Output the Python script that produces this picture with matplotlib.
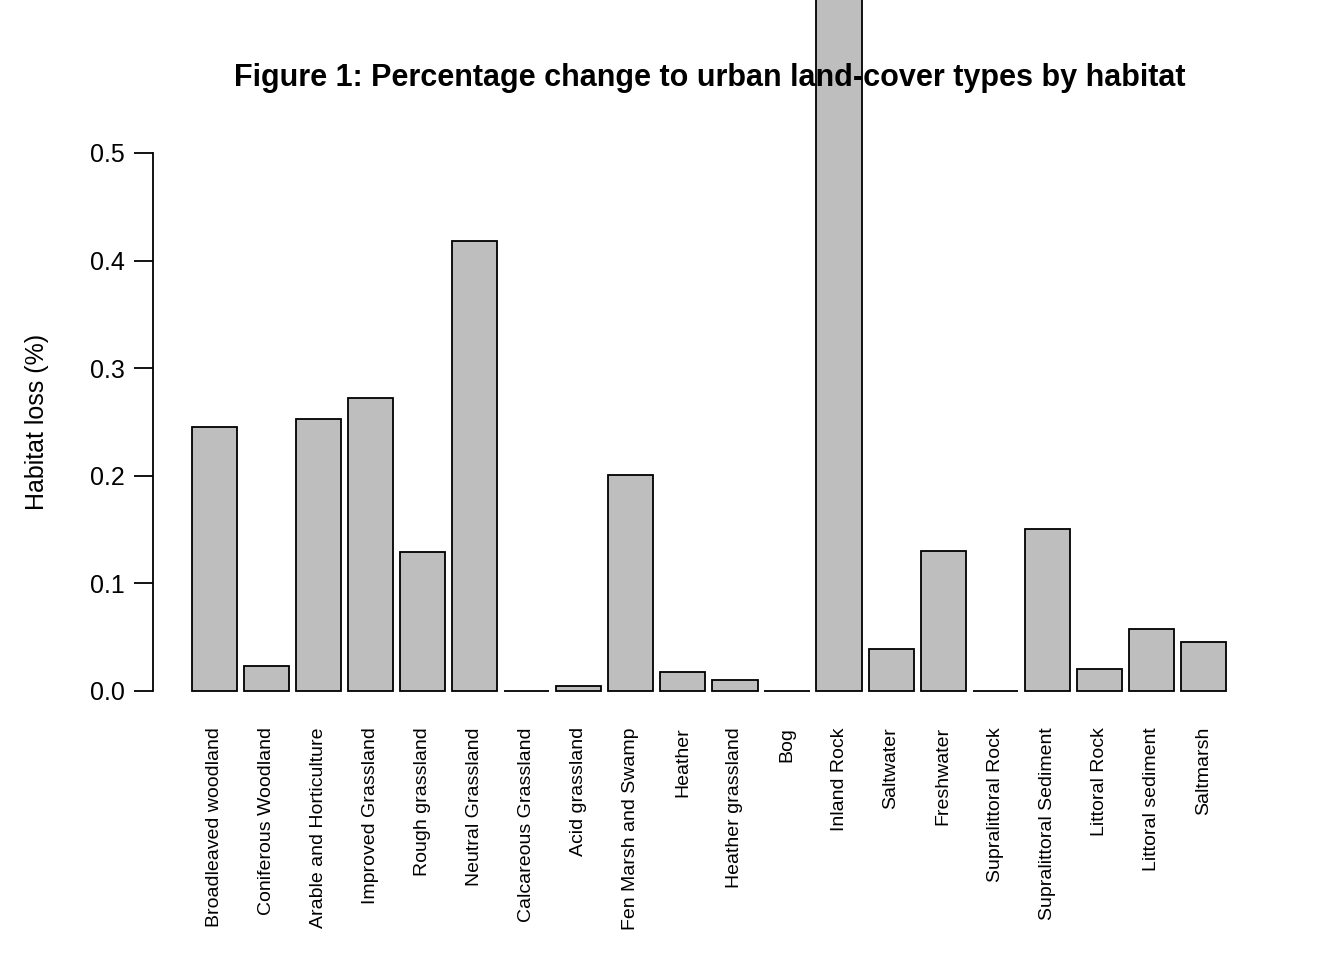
import matplotlib
matplotlib.use("Agg")
import matplotlib.pyplot as plt

plt.rcParams["font.family"] = ["Liberation Sans", "DejaVu Sans"]

habitats = ["Broadleaved woodland", "Coniferous Woodland", "Arable and Horticulture",
            "Improved Grassland", "Rough grassland", "Neutral Grassland",
            "Calcareous Grassland", "Acid grassland", "Fen Marsh and Swamp", "Heather",
            "Heather grassland", "Bog", "Inland Rock", "Saltwater", "Freshwater",
            "Supralittoral Rock", "Supralittoral Sediment", "Littoral Rock",
            "Littoral sediment", "Saltmarsh"]
loss = [0.245, 0.023, 0.253, 0.272, 0.129, 0.418, 0.0, 0.005, 0.201, 0.018,
        0.010, 0.0, 0.70, 0.039, 0.130, 0.0, 0.151, 0.020, 0.058, 0.046]
yticks = [0.0, 0.1, 0.2, 0.3, 0.4, 0.5]

W, H = 1344, 960
fig = plt.figure(figsize=(W / 100, H / 100), dpi=100)
ax = fig.add_axes([153 / W, 1 - 691 / H, (1300 - 153) / W, (691 - 153) / H])

x = [0.7 + 1.2 * i for i in range(len(habitats))]
ax.bar(x, loss, width=1.04, color="#bebebe", edgecolor="black", linewidth=1.3, clip_on=False)
ax.set_xlim(-0.72, 25.73)
ax.set_ylim(0, 0.5)
for s in ["top", "right", "bottom"]:
    ax.spines[s].set_visible(False)
ax.spines["left"].set_linewidth(1.3)
ax.set_yticks(yticks)
ax.set_yticklabels([f"{v:.1f}" for v in yticks], fontsize=18)
ax.tick_params(axis="y", length=14, width=1.3, pad=6)
ax.set_xticks(x)
ax.set_xticklabels(habitats, rotation=90, fontsize=14, va="top")
ax.tick_params(axis="x", length=0, pad=26)
ax.set_ylabel("Habitat loss (%)", fontsize=18, labelpad=30)
fig.text(710 / W, 1 - 78 / H, "Figure 1: Percentage change to urban land-cover types by habitat",
         ha="center", va="center", fontsize=22, fontweight="bold")
fig.savefig("out.png", dpi=100)
